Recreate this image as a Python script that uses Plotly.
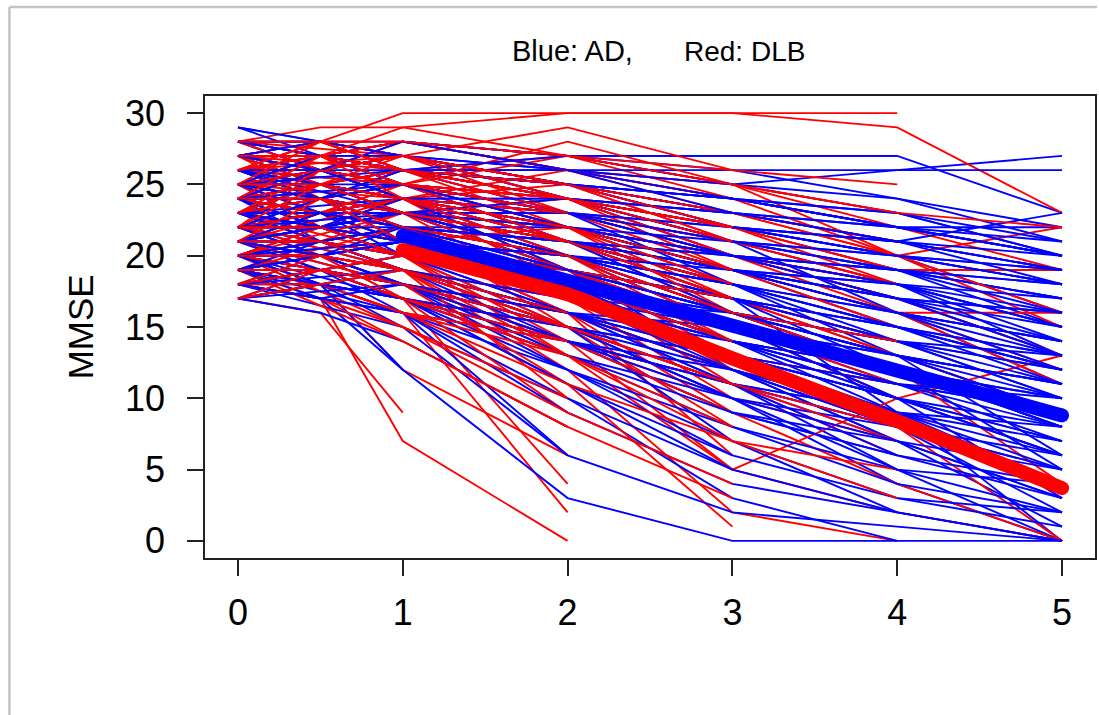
import plotly.graph_objects as go

# Visit times (years from baseline)
visits = [0, 0.5, 1, 2, 3, 4, 5]

# MMSE trajectories per subject, one value per visit (None = no visit)
ad_subjects = [
    [29, 28, 28, 27, 27, 27, 23],
    [28, 26, 27, 26, 25, 26, 27],
    [28, 27, 28, 27, 26, 24, 22],
    [27, 28, 27, 26, 24, 22, 20],
    [27, 25, 26, 25, 23, 21, 19],
    [27, 26, 24, 23, 22, 20, 18],
    [26, 27, 26, 24, 21, 19, 15],
    [26, 25, 25, 22, 20, 18, 14],
    [26, 24, 26, 25, 22, 19, 17],
    [25, 26, 24, 23, 21, 16, 13],
    [25, 24, 25, 21, 19, 15, 12],
    [25, 23, 22, 22, 18, 16, 11],
    [24, 25, 24, 20, 17, 14, 10],
    [24, 23, 23, 21, 18, 13, 9],
    [24, 22, 21, 19, 16, 12, 8],
    [24, 25, 23, 22, 20, 17, 16],
    [23, 24, 23, 20, 15, 11, 7],
    [23, 22, 22, 19, 16, 13, 6],
    [23, 21, 22, 18, 14, 12, 5],
    [23, 24, 21, 20, 17, 9, 4],
    [22, 23, 22, 18, 15, 10, 3],
    [22, 21, 20, 17, 13, 8, 2],
    [22, 23, 21, 19, 12, 7, 1],
    [22, 20, 21, 16, 11, 5, 0],
    [21, 22, 20, 17, 14, 9, 0],
    [21, 20, 19, 15, 10, 4, 0],
    [21, 22, 21, 18, 13, None, None],
    [20, 21, 20, 16, 12, 8, 6],
    [20, 19, 18, 14, 9, 6, 3],
    [20, 21, 19, 15, 7, 3, 1],
    [19, 20, 18, 13, 8, 4, 2],
    [19, 18, 17, 12, 7, 2, 0],
    [18, 19, 17, 11, 5, None, None],
    [18, 17, 16, 10, 3, 0, None],
    [17, 18, 16, 12, 6, None, None],
    [29, 27, 26, 24, 23, None, None],
    [28, 28, 27, 25, None, None, None],
    [27, 26, 25, 22, 19, 17, None],
    [26, 26, 27, 24, 20, None, None],
    [25, 25, 24, 20, 16, 14, None],
    [24, 24, 22, 19, 15, None, None],
    [23, 23, 24, 21, None, None, None],
    [22, 22, 20, 15, 11, 9, None],
    [21, 21, 22, 18, 14, 12, None],
    [20, 20, 18, 13, None, None, None],
    [19, 19, 20, 16, 12, 7, None],
    [26, None, 25, 23, 21, 18, 13],
    [25, None, 23, 20, 17, 15, 12],
    [24, None, 22, 17, 13, 11, 9],
    [23, None, 24, 19, 14, 10, 8],
    [22, None, 19, 14, 9, 7, 5],
    [21, None, 18, 12, 8, 5, 4],
    [20, None, 17, 11, 6, 3, 2],
    [19, None, 16, 9, 4, 2, 0],
    [18, None, 15, 6, 2, 1, 0],
    [20, 18, 12, 3, 0, 0, 0],
    [21, 19, 16, 6, None, None, None],
    [17, 16, 14, 8, None, None, None],
    [18, 17, 12, None, None, None, None],
    [19, 18, 15, 10, 5, 2, None],
    [27, 27, 28, 27, 27, 27, None],
    [28, 27, 28, 26, 26, 26, 26],
    [25, 27, 26, 26, 25, 23, 20],
    [24, 26, 25, 24, 22, 20, 19],
    [23, 25, 23, 23, 20, 18, 15],
    [22, 24, 22, 21, 19, 16, 14],
    [21, 23, 21, 19, 17, 15, 12],
    [20, 22, 20, 18, 16, 13, 11],
    [22, 20, 19, 16, 15, 12, 10],
    [24, 21, 20, 17, 14, 11, 10],
    [26, 24, 23, 19, 16, 14, 12],
    [25, 22, 21, 18, 15, 13, 11],
    [23, 22, 20, 18, 13, 10, 7],
    [21, 20, 18, 14, 11, 9, 6],
    [20, 19, 17, 13, 10, 8, 5],
    [18, 18, 17, 14, 11, 7, 3],
    [22, 22, 21, 20, 18, None, None],
    [24, 23, 22, 20, None, None, None],
    [26, 25, 24, None, None, None, None],
    [21, 21, 19, None, None, None, None],
    [23, 21, 20, 17, 16, 14, 13],
    [25, 24, 22, 21, 19, 17, 15],
    [27, 25, 23, 22, 20, 19, 17],
    [19, 17, 16, 14, 12, 9, 8],
    [20, 18, 17, 15, 13, 10, 7],
    [27, 26, 27, 25, 24, 22, 21],
    [26, 27, 25, 24, 23, 21, 20],
    [25, 26, 26, 25, 23, 22, 22],
    [24, 25, 24, 23, 22, 21, 19],
    [28, 26, 27, 25, 24, 23, 20],
    [23, 25, 24, 22, 21, 20, 18],
    [22, 24, 23, 22, 20, 19, 17],
    [26, 25, 26, 24, 22, 21, 23],
    [25, 24, 23, 24, 22, 20, 16],
    [24, 23, 24, 22, 19, 18, 15],
    [23, 22, 23, 21, 20, 17, 13],
    [22, 21, 22, 20, 18, 16, 12],
    [21, 20, 21, 19, 17, 14, 11],
    [20, 19, 20, 18, 16, 12, 9],
    [26, 24, 25, 23, 18, 14, 10],
    [25, 23, 24, 21, 16, 12, 8],
    [24, 22, 23, 20, 15, 10, 6],
    [23, 21, 22, 17, 12, 8, 5],
    [22, 20, 19, 16, 11, 6, 4],
    [21, 19, 18, 15, 10, 5, 2],
    [20, 18, 19, 16, 12, 9, 7],
    [19, 18, 17, 15, 13, 11, 9],
    [18, 17, 18, 16, 14, 12, 10],
    [27, 28, 26, 25, 23, None, None],
    [26, 25, 24, 22, None, None, None],
    [25, 26, 25, 21, 18, None, None],
    [24, 22, 23, 19, None, None, None],
    [23, 24, 22, 19, 17, 15, None],
    [22, 23, 20, 18, 15, 13, None],
    [21, 22, 20, 17, 14, 11, None],
    [20, 21, 19, 16, 13, 10, None],
    [19, 20, 18, 14, 11, 8, None],
    [18, 19, 17, 13, 9, 6, None],
    [17, 18, 17, 14, 10, None, None],
    [28, 27, 26, 27, 25, 24, 21],
    [27, 27, 26, 24, 22, 20, 18],
    [25, 25, 24, 22, 19, 17, 14],
    [24, 24, 23, 21, 18, 15, 13],
    [23, 23, 21, 19, 17, 14, 12],
    [22, 22, 21, 19, 16, 13, 11],
    [29, None, 27, 25, 24, 22, 20],
    [28, None, 26, 26, 24, 23, 21],
    [27, None, 27, 24, 21, 19, 16],
    [26, None, 23, 22, 19, 16, 14],
    [25, None, 26, 23, 20, 18, 15],
    [24, None, 25, 22, 20, 17, 13],
    [23, None, 21, 20, 18, 15, 11],
    [22, None, 23, 21, 17, 12, 9],
    [21, None, 23, 20, 16, 13, 10],
    [20, None, 21, 17, 15, 12, 8],
    [19, None, 21, 18, 14, 10, 6],
    [18, None, 19, 15, 12, 8, 4],
    [17, None, 18, 15, 10, 7, 3],
    [28, 28, 26, 25, 22, 21, 19],
    [27, 26, 28, 26, 23, 22, 20],
    [26, 26, 24, 24, 21, 20, 19],
    [25, 27, 25, 23, 21, 19, 18],
    [24, 24, 25, 23, 20, 18, 16],
    [23, 22, 24, 22, 19, 16, 14],
    [22, 22, 23, 20, 18, 15, 13],
    [21, 23, 22, 19, 16, 13, 9],
    [20, 20, 21, 18, 14, 11, 8],
    [19, 21, 19, 17, 13, 9, 5],
    [18, 20, 18, 16, 13, 10, 6],
    [17, 19, 18, 15, 11, 8, 4],
    [25, 24, 26, 25, 24, 22, 20],
    [24, 26, 24, 24, 23, 21, 18],
    [23, 23, 22, 21, 20, 19, 18],
    [22, 24, 21, 20, 19, 17, 16],
    [21, 20, 22, 21, 19, 18, 17],
]

dlb_subjects = [
    [28, 29, 29, 30, 30, 29, 23],
    [27, 28, 30, 30, 30, 30, None],
    [28, 27, 28, 27, 25, 22, None],
    [27, 26, 28, 26, 25, 20, 22],
    [26, 27, 27, 25, 22, 19, 19],
    [26, 25, 26, 24, 20, None, None],
    [25, 27, 25, 23, 19, 16, 16],
    [25, 24, 26, 22, 17, 13, 9],
    [24, 26, 24, 21, 16, 12, 4],
    [24, 25, 23, 20, 15, 10, None],
    [24, 23, 25, 22, 18, None, None],
    [23, 25, 24, 19, 13, 8, 0],
    [23, 24, 22, 18, 11, 6, None],
    [23, 22, 23, 20, 14, None, None],
    [22, 24, 23, 17, 10, None, None],
    [22, 23, 21, 16, 9, 4, 0],
    [22, 21, 22, 18, 12, None, None],
    [21, 23, 22, 15, 8, None, None],
    [21, 22, 20, 14, 5, 10, 13],
    [21, 20, 21, 16, 6, None, None],
    [20, 22, 20, 13, 5, 2, 0],
    [20, 21, 19, 12, 2, 0, None],
    [20, 19, 18, 11, 1, None, None],
    [19, 21, 19, 10, None, None, None],
    [19, 20, 17, 4, None, None, None],
    [19, 18, 16, 2, None, None, None],
    [18, 17, 7, 0, None, None, None],
    [17, 16, 9, None, None, None, None],
    [18, 19, 17, 9, None, None, None],
    [17, 18, 12, 6, None, None, None],
    [28, 28, 27, 25, None, None, None],
    [27, 27, 26, 27, 25, None, None],
    [26, 26, 25, 27, 24, 20, 15],
    [25, 26, 24, 25, 21, 18, None],
    [25, 25, 26, 23, 20, None, None],
    [24, 24, 23, 24, 19, 16, 11],
    [23, 23, 21, 22, 16, None, None],
    [22, 22, 24, 21, 17, 13, None],
    [21, 21, 23, 19, 15, 11, None],
    [20, 20, 21, 18, None, None, None],
    [27, 26, 25, None, None, None, None],
    [26, 24, 23, None, None, None, None],
    [25, 23, 22, 20, None, None, None],
    [24, 22, 20, 18, None, None, None],
    [23, 21, 19, 16, 12, None, None],
    [22, 20, 18, 14, 10, 7, None],
    [21, 19, 17, 13, None, None, None],
    [20, 18, 16, 11, 7, 5, None],
    [19, 17, 15, 9, 4, None, None],
    [18, 17, 14, 8, None, None, None],
    [28, None, 27, 23, 20, 17, None],
    [27, None, 26, 24, 20, 16, 12],
    [26, None, 25, 21, 18, None, None],
    [25, None, 24, 18, 14, None, None],
    [24, None, 22, 17, 13, 11, None],
    [23, None, 20, 15, 11, None, None],
    [22, None, 19, 13, 7, 3, None],
    [21, None, 18, 14, 11, 7, None],
    [20, None, 15, 10, None, None, None],
    [19, None, 14, 8, 3, None, None],
    [26, 28, 27, 29, 26, 25, None],
    [24, 27, 25, 28, 25, 23, None],
    [22, 26, 24, 26, 24, 22, 19],
    [27, 24, 25, 22, None, None, None],
    [25, 22, 23, 21, 18, None, None],
    [28, 27, 28, 26, 24, None, None],
    [27, 28, 27, 25, 23, 21, None],
    [27, 25, 26, 24, 22, None, None],
    [26, 27, 26, 25, 23, 20, 16],
    [26, 25, 27, 24, 21, None, None],
    [25, 26, 25, 24, 22, 19, None],
    [25, 24, 23, 22, 19, None, None],
    [24, 25, 24, 23, 20, 17, 13],
    [24, 23, 24, 21, 18, None, None],
    [23, 24, 23, 22, 19, 15, None],
    [23, 22, 21, 20, 16, None, None],
    [22, 23, 22, 21, 17, 14, None],
    [22, 21, 20, 19, 15, None, None],
    [21, 22, 21, 20, 16, 12, None],
    [21, 20, 19, 17, 13, None, None],
    [20, 21, 20, 19, 15, None, None],
    [20, 19, 18, 16, 12, 9, None],
    [19, 20, 19, 17, 13, None, None],
    [19, 18, 17, 15, None, None, None],
    [18, 19, 18, 16, 12, None, None],
    [18, 18, 16, 13, None, None, None],
    [17, 18, 16, 14, 9, None, None],
    [28, 26, 27, 25, None, None, None],
    [26, 28, 26, None, None, None, None],
    [25, 27, 26, None, None, None, None],
    [24, 26, 25, 23, None, None, None],
    [23, 25, 24, 22, None, None, None],
    [22, 24, 23, 21, 18, None, None],
    [21, 23, 22, 20, None, None, None],
    [20, 22, 21, 19, 17, None, None],
    [27, 27, 29, 27, 26, None, None],
    [25, 27, 28, 26, None, None, None],
    [24, 26, 27, 25, 23, 20, None],
    [23, 23, 25, 24, 21, None, None],
    [22, 22, 24, 22, 20, 18, None],
    [28, None, 28, 26, 23, None, None],
    [27, None, 25, 23, 21, 18, None],
    [26, None, 27, 25, 21, None, None],
    [25, None, 27, 24, 22, 18, None],
    [24, None, 26, 23, None, None, None],
    [23, None, 25, 21, 17, None, None],
    [22, None, 24, 20, 15, 12, None],
    [21, None, 24, 21, None, None, None],
    [20, None, 23, 19, 14, None, None],
    [19, None, 22, 18, None, None, None],
    [18, None, 20, 17, 13, None, None],
    [17, None, 19, 15, None, None, None],
    [28, 28, 26, 24, None, None, None],
    [27, 27, 25, 24, 22, None, None],
    [26, 27, 24, 22, 19, None, None],
    [25, 25, 23, 21, 17, None, None],
    [24, 24, 22, 20, 16, 14, None],
    [23, 24, 21, 18, 14, None, None],
    [22, 22, 20, 17, 13, None, None],
    [21, 21, 19, 15, 11, 8, None],
    [20, 20, 17, 14, None, None, None],
    [19, 19, 18, 15, 11, None, None],
    [18, 20, 19, 16, None, None, None],
    [17, 19, 17, 13, 8, None, None],
    [26, 28, 28, 27, 25, 23, 22],
    [25, 28, 26, 25, 22, None, None],
    [24, 27, 26, 24, 21, None, None],
    [23, 26, 25, 23, None, None, None],
    [22, 25, 24, 22, 18, None, None],
    [21, 24, 23, 21, None, None, None],
]

# Group mean decline from year 1 to year 5
mean_years = [1, 2, 3, 4, 5]
ad_mean = [21.4, 18.25, 15.1, 11.95, 8.8]
dlb_mean = [20.4, 17.3, 12.8, 8.4, 3.7]

BLUE = "#0000FF"
RED = "#FF0000"


def spaghetti(subjects):
    """Concatenate subject trajectories, separated by gaps."""
    xs, ys = [], []
    for s in subjects:
        for t, v in zip(visits, s):
            if v is not None:
                xs.append(t)
                ys.append(v)
        xs.append(None)
        ys.append(None)
    return xs, ys


def chunks(lst, n):
    k = (len(lst) + n - 1) // n
    return [lst[i:i + k] for i in range(0, len(lst), k)]


fig = go.Figure()

# Thin individual trajectories, the two groups interleaved
for ad_part, dlb_part in zip(chunks(ad_subjects, 6), chunks(dlb_subjects, 6)):
    for part, col in ((ad_part, BLUE), (dlb_part, RED)):
        x, y = spaghetti(part)
        fig.add_trace(go.Scatter(x=x, y=y, mode="lines",
                                 line=dict(color=col, width=1.9),
                                 connectgaps=False, hoverinfo="skip"))

# Thick mean lines with rounded ends
for ys, col in ((ad_mean, BLUE), (dlb_mean, RED)):
    fig.add_trace(go.Scatter(x=mean_years, y=ys, mode="lines",
                             line=dict(color=col, width=14),
                             hoverinfo="skip"))
    fig.add_trace(go.Scatter(x=[mean_years[0], mean_years[-1]],
                             y=[ys[0], ys[-1]], mode="markers",
                             marker=dict(color=col, size=14),
                             hoverinfo="skip"))

FONT = "Liberation Sans, Arial, sans-serif"


def px_x(p):
    return (p - 205) / 892


def px_y(p):
    return (558 - p) / 462


fig.update_layout(
    width=1099, height=715,
    margin=dict(l=205, r=2, t=96, b=157),
    paper_bgcolor="white", plot_bgcolor="white",
    showlegend=False,
    font=dict(family=FONT, color="black"),
    xaxis=dict(range=[-0.2, 5.2], tickvals=[0, 1, 2, 3, 4, 5],
               ticks="outside", ticklen=16, tickwidth=1.6, tickcolor="#222",
               tickfont=dict(size=36, family=FONT, color="black"),
               ticklabelstandoff=6,
               showgrid=False, zeroline=False,
               showline=True, linecolor="#222", linewidth=1.6, mirror=True),
    yaxis=dict(range=[-1.2, 31.2], tickvals=[0, 5, 10, 15, 20, 25, 30],
               ticks="outside", ticklen=16, tickwidth=1.6, tickcolor="#222",
               tickfont=dict(size=36, family=FONT, color="black"),
               ticklabelstandoff=15,
               showgrid=False, zeroline=False,
               showline=True, linecolor="#222", linewidth=1.6, mirror=True),
    annotations=[
        dict(text="Blue: AD,", xref="paper", yref="paper",
             x=px_x(636), y=px_y(51), xanchor="right", yanchor="middle",
             showarrow=False, font=dict(size=29, family=FONT, color="black")),
        dict(text="Red: DLB", xref="paper", yref="paper",
             x=px_x(683), y=px_y(51), xanchor="left", yanchor="middle",
             showarrow=False, font=dict(size=28, family=FONT, color="black")),
        dict(text="MMSE", textangle=-90,
             xref="paper", yref="paper", x=px_x(80), y=0.5,
             xanchor="center", yanchor="middle", showarrow=False,
             font=dict(size=35, family=FONT, color="black")),
    ],
    shapes=[
        # light grey page frame
        dict(type="line", xref="paper", yref="paper",
             x0=px_x(9), x1=px_x(1099), y0=px_y(7), y1=px_y(7),
             line=dict(color="#c4c4c4", width=2.5)),
        dict(type="line", xref="paper", yref="paper",
             x0=px_x(9), x1=px_x(9), y0=px_y(7), y1=px_y(720),
             line=dict(color="#c4c4c4", width=2.5)),
    ],
)

fig.write_html("out.html", config={"displayModeBar": False})
